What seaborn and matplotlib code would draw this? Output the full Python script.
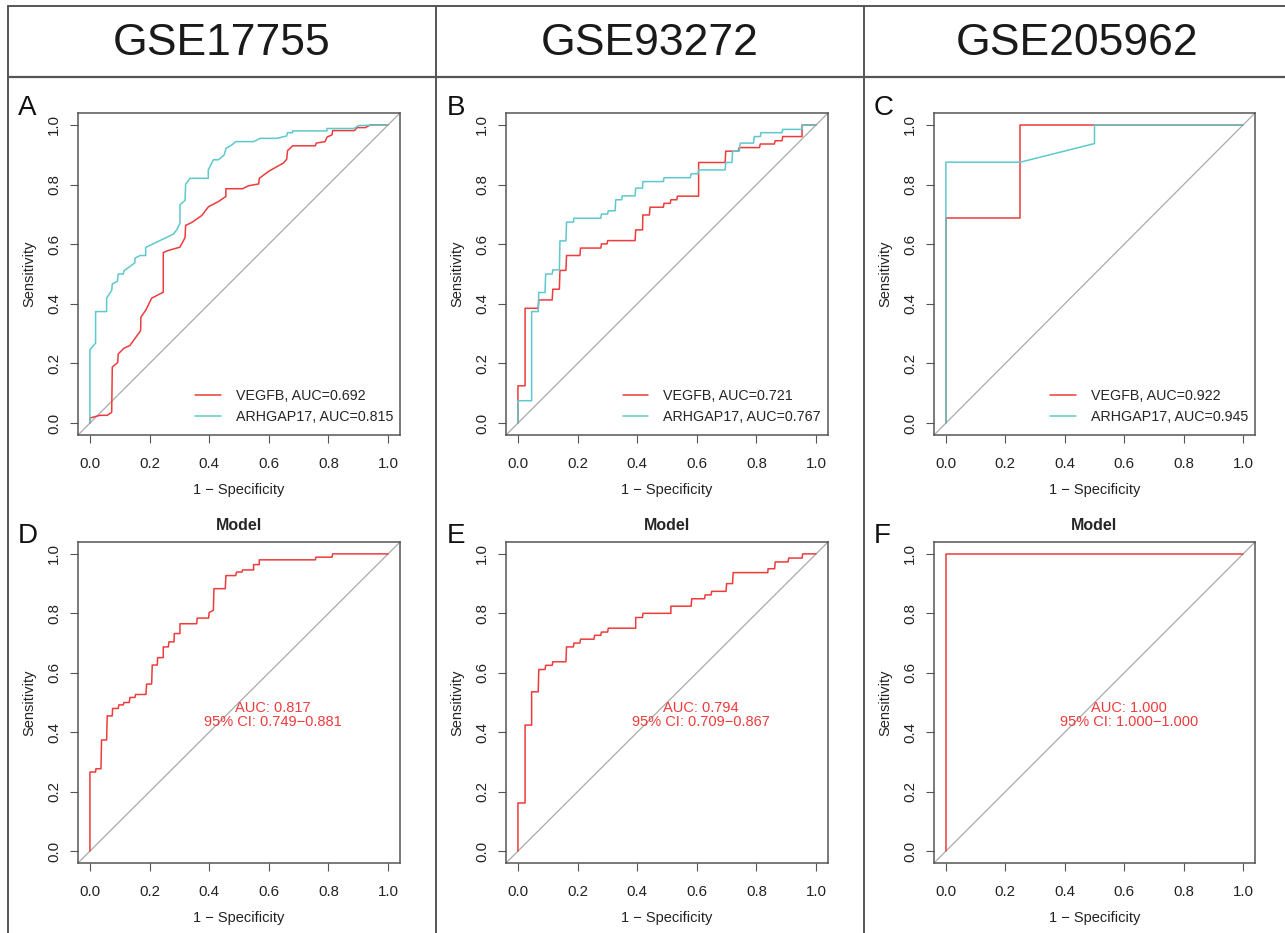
import matplotlib
matplotlib.use("Agg")
import matplotlib.pyplot as plt
from matplotlib.lines import Line2D
import seaborn as sns

# ---------------- data ----------------
columns = ["GSE17755", "GSE93272", "GSE205962"]
panel_letters = ["A", "B", "C", "D", "E", "F"]
genes = ["VEGFB", "ARHGAP17"]

# Panel A (GSE17755)
a_vegfb_fpr = [0, 0, 0.034, 0.058, 0.073, 0.075, 0.093, 0.095, 0.114, 0.134, 0.17, 0.171, 0.188, 0.207,
               0.246, 0.246, 0.263, 0.302, 0.319, 0.321, 0.342, 0.375, 0.398, 0.431, 0.456, 0.456, 0.512,
               0.532, 0.566, 0.568, 0.599, 0.627, 0.649, 0.66, 0.663, 0.68, 0.756, 0.759, 0.789, 0.795,
               0.812, 0.814, 0.887, 0.896, 0.924, 0.94, 1.0]
a_vegfb_tpr = [0, 0.017, 0.026, 0.026, 0.036, 0.188, 0.203, 0.232, 0.251, 0.26, 0.31, 0.355, 0.38, 0.419,
               0.439, 0.572, 0.579, 0.59, 0.622, 0.663, 0.673, 0.696, 0.726, 0.743, 0.76, 0.786, 0.786,
               0.796, 0.802, 0.821, 0.844, 0.86, 0.872, 0.885, 0.914, 0.93, 0.93, 0.939, 0.944, 0.959,
               0.967, 0.981, 0.981, 0.991, 0.991, 1.0, 1.0]
a_arhgap17_fpr = [0, 0, 0.019, 0.019, 0.056, 0.056, 0.073, 0.075, 0.092, 0.095, 0.112, 0.114, 0.134, 0.151,
                  0.151, 0.168, 0.187, 0.187, 0.28, 0.291, 0.302, 0.302, 0.319, 0.321, 0.336, 0.397, 0.397,
                  0.414, 0.431, 0.45, 0.457, 0.476, 0.489, 0.549, 0.571, 0.627, 0.66, 0.663, 0.68, 0.68,
                  0.795, 0.795, 0.885, 0.902, 1.0]
a_arhgap17_tpr = [0, 0.246, 0.268, 0.374, 0.374, 0.419, 0.445, 0.467, 0.475, 0.5, 0.5, 0.511, 0.525, 0.538,
                  0.553, 0.562, 0.562, 0.589, 0.634, 0.648, 0.67, 0.732, 0.747, 0.801, 0.821, 0.821, 0.849,
                  0.883, 0.883, 0.899, 0.922, 0.933, 0.944, 0.944, 0.955, 0.955, 0.963, 0.974, 0.974, 0.98,
                  0.98, 0.988, 0.988, 0.998, 1.0]
a_auc = [0.692, 0.815]

# Panel B (GSE93272)
b_vegfb_fpr = [0, 0, 0.024, 0.024, 0.068, 0.07, 0.115, 0.117, 0.139, 0.141, 0.161, 0.163, 0.208, 0.21,
               0.278, 0.28, 0.299, 0.301, 0.393, 0.395, 0.418, 0.419, 0.441, 0.443, 0.488, 0.49, 0.511,
               0.513, 0.533, 0.535, 0.606, 0.606, 0.695, 0.697, 0.739, 0.742, 0.81, 0.813, 0.86, 0.863,
               0.886, 0.888, 0.953, 0.953, 1.0]
b_vegfb_tpr = [0, 0.125, 0.125, 0.385, 0.385, 0.413, 0.413, 0.449, 0.449, 0.512, 0.512, 0.562, 0.562, 0.587,
               0.587, 0.601, 0.601, 0.612, 0.612, 0.648, 0.648, 0.698, 0.698, 0.724, 0.724, 0.737, 0.737,
               0.749, 0.749, 0.761, 0.761, 0.874, 0.874, 0.912, 0.912, 0.924, 0.924, 0.936, 0.936, 0.947,
               0.947, 0.961, 0.961, 1.0, 1.0]
b_arhgap17_fpr = [0, 0, 0.046, 0.046, 0.068, 0.07, 0.091, 0.093, 0.115, 0.117, 0.139, 0.141, 0.161, 0.163,
                  0.186, 0.188, 0.278, 0.28, 0.301, 0.303, 0.326, 0.328, 0.348, 0.35, 0.393, 0.395, 0.418,
                  0.419, 0.488, 0.49, 0.578, 0.581, 0.604, 0.606, 0.695, 0.697, 0.718, 0.72, 0.742, 0.746,
                  0.79, 0.793, 0.813, 0.815, 0.886, 0.888, 0.953, 0.955, 1.0]
b_arhgap17_tpr = [0, 0.075, 0.075, 0.374, 0.374, 0.438, 0.438, 0.5, 0.5, 0.514, 0.514, 0.611, 0.611, 0.674,
                  0.674, 0.687, 0.687, 0.701, 0.701, 0.712, 0.712, 0.749, 0.749, 0.762, 0.762, 0.788, 0.788,
                  0.81, 0.81, 0.823, 0.823, 0.836, 0.836, 0.849, 0.849, 0.874, 0.874, 0.912, 0.912, 0.939,
                  0.939, 0.961, 0.961, 0.974, 0.974, 0.985, 0.985, 1.0, 1.0]
b_auc = [0.721, 0.767]

# Panel C (GSE205962)
c_vegfb_fpr = [0, 0, 0.25, 0.25, 1.0]
c_vegfb_tpr = [0, 0.6875, 0.6875, 1.0, 1.0]
c_arhgap17_fpr = [0, 0, 0.25, 0.5, 0.5, 1.0]
c_arhgap17_tpr = [0, 0.875, 0.875, 0.9375, 1.0, 1.0]
c_auc = [0.922, 0.945]

# Panel D (GSE17755 model)
d_fpr = [0, 0, 0.019, 0.02, 0.037, 0.039, 0.056, 0.058, 0.075, 0.076, 0.095, 0.097, 0.112, 0.114, 0.132,
         0.134, 0.151, 0.153, 0.188, 0.19, 0.207, 0.209, 0.226, 0.227, 0.246, 0.246, 0.263, 0.265, 0.282,
         0.283, 0.302, 0.302, 0.358, 0.36, 0.398, 0.4, 0.414, 0.416, 0.454, 0.456, 0.489, 0.492, 0.51, 0.512,
         0.549, 0.549, 0.568, 0.568, 0.756, 0.758, 0.812, 0.814, 1.0]
d_tpr = [0, 0.266, 0.266, 0.277, 0.277, 0.374, 0.374, 0.455, 0.455, 0.48, 0.48, 0.492, 0.492, 0.5, 0.5,
         0.517, 0.517, 0.527, 0.527, 0.562, 0.562, 0.626, 0.626, 0.651, 0.651, 0.687, 0.687, 0.704, 0.704,
         0.732, 0.732, 0.765, 0.765, 0.784, 0.784, 0.803, 0.81, 0.883, 0.883, 0.927, 0.927, 0.939, 0.939,
         0.946, 0.946, 0.964, 0.964, 0.98, 0.98, 0.989, 0.989, 1.0, 1.0]
d_auc, d_ci = 0.817, (0.749, 0.881)

# Panel E (GSE93272 model)
e_fpr = [0, 0, 0.024, 0.024, 0.046, 0.046, 0.068, 0.07, 0.091, 0.093, 0.115, 0.117, 0.161, 0.163, 0.186,
         0.188, 0.208, 0.21, 0.255, 0.257, 0.278, 0.28, 0.301, 0.303, 0.395, 0.395, 0.418, 0.419, 0.513,
         0.513, 0.581, 0.583, 0.626, 0.628, 0.648, 0.65, 0.698, 0.7, 0.72, 0.722, 0.838, 0.839, 0.861,
         0.863, 0.906, 0.908, 0.953, 0.955, 1.0]
e_tpr = [0, 0.162, 0.162, 0.424, 0.424, 0.536, 0.536, 0.611, 0.611, 0.625, 0.625, 0.637, 0.637, 0.687,
         0.687, 0.7, 0.7, 0.713, 0.713, 0.726, 0.726, 0.737, 0.737, 0.75, 0.75, 0.786, 0.786, 0.8, 0.8,
         0.824, 0.824, 0.849, 0.849, 0.862, 0.862, 0.874, 0.874, 0.9, 0.9, 0.937, 0.937, 0.95, 0.95,
         0.973, 0.973, 0.986, 0.986, 1.0, 1.0]
e_auc, e_ci = 0.794, (0.709, 0.867)

# Panel F (GSE205962 model)
f_fpr = [0, 0, 1.0]
f_tpr = [0, 1.0, 1.0]
f_auc, f_ci = 1.000, (1.000, 1.000)

ticks = [0.0, 0.2, 0.4, 0.6, 0.8, 1.0]
tick_labels = ["0.0", "0.2", "0.4", "0.6", "0.8", "1.0"]

# ---------------- style ----------------
sns.set_style("white")
plt.rcParams["font.family"] = ["Liberation Sans", "DejaVu Sans"]

RED = "#EE3B3B"
CYAN = "#5EC9CC"
FRAME = "#555555"

W, H = 1285, 933
fig = plt.figure(figsize=(W / 100, H / 100), dpi=100)


def axes_px(l, t, r, b):
    return fig.add_axes([l / W, 1 - b / H, (r - l) / W, (b - t) / H])


def style_axes(ax):
    ax.set_xlim(-0.04, 1.04)
    ax.set_ylim(-0.04, 1.04)
    ax.axline((0, 0), (1, 1), color="#AAAAAA", lw=0.9, zorder=1)
    for s in ax.spines.values():
        s.set_visible(True)
        s.set_color(FRAME)
        s.set_linewidth(1.1)
    ax.set_xticks(ticks)
    ax.set_xticklabels(tick_labels)
    ax.set_yticks(ticks)
    ax.set_yticklabels(tick_labels, rotation=90, va="center")
    ax.tick_params(axis="both", which="major", direction="out", length=6, width=0.8,
                   color=FRAME, labelsize=10.8, labelcolor="#222222",
                   bottom=True, left=True)
    ax.tick_params(axis="x", pad=9.5)
    ax.tick_params(axis="y", pad=6)
    ax.set_xlabel("1 \u2212 Specificity", fontsize=10.5, color="#222222", labelpad=9)
    ax.set_ylabel("Sensitivity", fontsize=10.5, color="#222222", labelpad=8)


cols_x = [(78, 400), (506, 828), (934, 1255)]
row1 = (113, 435)
row2 = (542, 863)

top_sets = [
    (a_vegfb_fpr, a_vegfb_tpr, a_arhgap17_fpr, a_arhgap17_tpr, a_auc),
    (b_vegfb_fpr, b_vegfb_tpr, b_arhgap17_fpr, b_arhgap17_tpr, b_auc),
    (c_vegfb_fpr, c_vegfb_tpr, c_arhgap17_fpr, c_arhgap17_tpr, c_auc),
]
bottom_sets = [
    (d_fpr, d_tpr, d_auc, d_ci),
    (e_fpr, e_tpr, e_auc, e_ci),
    (f_fpr, f_tpr, f_auc, f_ci),
]

for i, (xs, (v_x, v_y, g_x, g_y, aucs)) in enumerate(zip(cols_x, top_sets)):
    ax = axes_px(xs[0], row1[0], xs[1], row1[1])
    sns.lineplot(x=v_x, y=v_y, sort=False, estimator=None, color=RED, lw=1.1, ax=ax,
                 label=f"{genes[0]}, AUC={aucs[0]:.3f}", zorder=3)
    sns.lineplot(x=g_x, y=g_y, sort=False, estimator=None, color=CYAN, lw=1.1, ax=ax,
                 label=f"{genes[1]}, AUC={aucs[1]:.3f}", zorder=3)
    style_axes(ax)
    ax.legend(loc="lower right", bbox_to_anchor=(0.978, 0.035), frameon=False, fontsize=10.3,
              handlelength=1.8, handletextpad=1.05, labelspacing=0.45, borderpad=0,
              borderaxespad=0)

for i, (xs, (fx, fy, auc, ci)) in enumerate(zip(cols_x, bottom_sets)):
    ax = axes_px(xs[0], row2[0], xs[1], row2[1])
    sns.lineplot(x=fx, y=fy, sort=False, estimator=None, color=RED, lw=1.1, ax=ax, zorder=3)
    style_axes(ax)
    ax.set_title("Model", fontsize=11.5, fontweight="bold", pad=9)
    ax.text(0.615, 0.483, f"AUC: {auc:.3f}", color=RED, fontsize=10.5, ha="center", va="center")
    ax.text(0.615, 0.433, f"95% CI: {ci[0]:.3f}\u2212{ci[1]:.3f}", color=RED, fontsize=10.5,
            ha="center", va="center")

# panel letters
letter_pos = [(18, 115), (447, 115), (874, 115), (18, 543), (447, 543), (874, 543)]
for letter, (x, y) in zip(panel_letters, letter_pos):
    fig.text(x / W, 1 - y / H, letter, fontsize=20, ha="left", va="baseline", color="#111111")

# header
header_cx = [222, 650, 1077]
for name, cx in zip(columns, header_cx):
    fig.text(cx / W, 1 - 55 / H, name, fontsize=32, ha="center", va="baseline", color="#1a1a1a")

# frame lines
def fline(x0, y0, x1, y1, lw=1.4):
    fig.add_artist(Line2D([x0 / W, x1 / W], [1 - y0 / H, 1 - y1 / H], transform=fig.transFigure,
                          color=FRAME, lw=lw))

fline(8, 6, W, 6)
fline(8, 77, W, 77, lw=1.6)
for xv in [8, 436, 864]:
    fline(xv, 6, xv, H)

fig.savefig("out.png", dpi=100)
